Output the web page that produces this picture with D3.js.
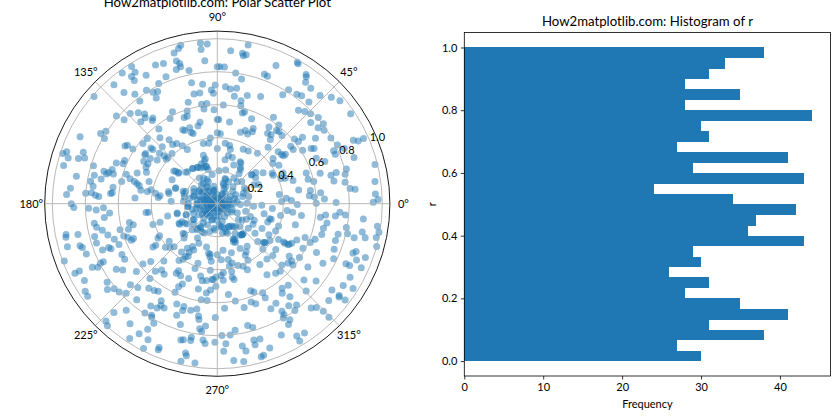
<!DOCTYPE html>
<html><head><meta charset="utf-8">
<script src="https://d3js.org/d3.v7.min.js"></script>
<style>html,body{margin:0;padding:0;background:#fff}svg{display:block}text{font-family:Lato,"Noto Sans",sans-serif;fill:#000}</style>
</head><body><svg id="c" width="840" height="420"></svg>
<script>
const leftTitle="How2matplotlib.com: Polar Scatter Plot";
const rightTitle="How2matplotlib.com: Histogram of r";
const angleTicks=[0,45,90,135,180,225,270,315];
const radiusTicks=[0.2,0.4,0.6,0.8,1.0];
const freqTicks=[0,10,20,30,40];
const rTicks=[0,0.2,0.4,0.6,0.8,1.0];
const binCounts=[30,27,38,31,41,35,28,31,26,30,29,43,36,37,42,34,24,43,29,41,27,31,30,44,28,35,28,31,33,38];
// [theta in degrees, r]
const pointsUpperLeft=[[96,.98],[93.6,.97],[96,.94],[103,.985],[104,.97],[106,.95],[95,.87],[106,.9],[105,.88],[105,.86],[107,.85],[102,.825],[90,.83],[111,.91],[114,.92],[122,.98],[126,.98],[122,.94],[124,.93],[124,.9],[119,.89],[112,.83],[131,.955],[116,.81],[102,.75],[97,.73],[91,.72],[130,.88],[122,.81],[118,.77],[120,.78],[99,.68],[102,.68],[93,.69],[92,.67],[127,.83],[120,.74],[139,.99],[127,.78],[106,.64],[99,.61],[96,.61],[98,.58],[92,.57],[108,.59],[116,.62],[139,.81],[134,.76],[131,.73],[129,.7],[130,.68],[127,.65],[128,.64],[133,.68],[138,.76],[119,.59],[111,.56],[109,.56],[90,.51],[102,.505],[104,.485],[110,.49],[115,.495],[114,.485],[110,.46],[109,.45],[128,.575],[131,.53],[154,.925],[149,.825],[147,.805],[150,.79],[137,.58],[141,.58],[96,.4],[103,.375],[98,.37],[90,.43],[147,.65],[148,.66],[147,.61],[140,.525],[134,.48],[127,.485],[127,.45],[124,.44],[121,.41],[119,.375],[140,.51],[145,.53],[139,.465],[132,.41],[161,.965],[162,.985],[159,.87],[163,.945],[161,.85],[162,.885],[166,.96],[155,.62],[146,.53],[146,.49],[150,.515],[144,.45],[138,.435],[139,.41],[137,.41],[158,.66],[157,.62],[150,.485],[153,.485],[106,.305],[105,.28],[112,.26],[106,.235],[105,.215],[110,.235],[118,.25],[125,.26],[163,.785],[169,.87],[167,.765],[164,.715],[165,.695],[162,.67],[164,.655],[164,.685],[168,.72],[170,.78],[162,.58],[159,.52],[156,.47],[142,.32],[142,.3],[135,.27],[152,.31],[164,.55],[165,.52],[166,.5],[167,.485],[162,.435],[167,.595],[171,.64],[172,.76],[174,.895],[175.5,.8],[175,.765],[176,.74],[176.5,.72],[176.5,.915],[174.5,.65],[174,.64],[170,.47],[170,.43],[168,.41],[170.5,.38],[172,.35],[166,.305],[168,.3],[160,.27],[160,.22],[163,.21],[147,.17],[160,.15],[143,.115],[180,.885],[176,.5],[174,.36],[177,.28],[176,.205],[125,.15],[112,.145],[106,.085],[127,.09],[129,.055],[158,.115],[163,.08],[169,.17]];
const pointsLowerLeft=[[181.5,.87],[182,.78],[183,.735],[182,.69],[185,.655],[187,.69],[189,.755],[191,.745],[193,.715],[196,.69],[191.5,.935],[192.5,.94],[192.5,.865],[195,.77],[198,.77],[196,.945],[197,.87],[198,.86],[201,.85],[202,.75],[202,.71],[203,.7],[199,.66],[202.5,.645],[195,.61],[192,.545],[194,.525],[196,.56],[199,.6],[200.5,.58],[202.5,.55],[203,.565],[208,.655],[211,.655],[200.5,.99],[207,.775],[207,.795],[207,.85],[208,.82],[206,.93],[206,.96],[210,.93],[213,.73],[215,.7],[220,.64],[219,.58],[221,.535],[227,.475],[227.5,.555],[230,.525],[233,.535],[228,.61],[215.5,.82],[218,.845],[219.5,.81],[222,.8],[224.5,.775],[223,.72],[226.5,.7],[231,.66],[234,.65],[236,.64],[213.5,.96],[215.5,.965],[230,.76],[240,.68],[237,.74],[240,.73],[241,.705],[243,.71],[226.5,.91],[229.5,.85],[236.5,.795],[239.5,.785],[240,.795],[242,.82],[234,.9],[226.5,.98],[228,.995],[241,.87],[239,.92],[237,.975],[243,.925],[243,.985],[248,.94],[248,.955],[250,.72],[248,.655],[252,.655],[252,.68],[256,.665],[259,.65],[260.5,.69],[261,.71],[253,.765],[269,.69],[264.5,.745],[262,.765],[263,.78],[256,.85],[255,.855],[259,.825],[259,.845],[264,.83],[265,.85],[269,.84],[258,.925],[258.5,.94],[257,.98],[262,.975],[198,.41],[198,.365],[194,.31],[194,.25],[187,.435],[187,.42],[209,.4],[210,.415],[214,.45],[214,.47],[218,.37],[220,.41],[223,.39],[225,.37],[221,.275],[211,.23],[208.5,.26],[207,.24],[213,.175],[221,.19],[232,.19],[242,.195],[223,.27],[236,.325],[233.5,.365],[240,.34],[239,.375],[240,.3],[245,.265],[256,.27],[236,.415],[238.5,.395],[252,.38],[251,.415],[260,.305],[262,.31],[264,.35],[264,.405],[257,.45],[259,.475],[262,.47],[266,.46],[269,.445],[269,.5],[240,.47],[239.5,.49],[243,.49],[249,.485],[246.5,.53],[245,.555],[244.5,.595],[257.5,.53],[265.5,.525],[263,.545],[260.5,.59],[264,.59]];
const pointsUpperRight=[[79,.98],[85,.93],[80.5,.925],[79,.92],[80,.91],[89,.83],[87,.83],[67,.91],[60.5,.985],[60,.98],[82,.8],[70,.835],[68.5,.83],[55.5,.95],[55,.94],[54,.91],[79,.77],[86,.71],[83.5,.7],[80.5,.71],[51,.9],[58,.815],[59,.77],[54,.82],[52,.83],[46.5,.905],[43,.945],[40,.97],[81,.66],[74.5,.68],[68,.7],[77,.64],[48,.83],[86.5,.6],[76.5,.61],[73.5,.58],[74.5,.57],[49,.75],[46.5,.77],[44,.785],[34,.975],[68,.555],[57,.625],[40.5,.805],[37,.805],[41,.75],[37,.765],[34.5,.785],[89,.51],[81.5,.5],[52,.605],[56,.56],[64.5,.505],[64,.485],[69,.475],[72,.455],[66.5,.46],[87.5,.425],[54.5,.525],[52,.53],[51,.57],[49.5,.575],[46.5,.57],[50.5,.505],[40,.61],[38,.655],[37.5,.62],[33.7,.715],[30,.795],[25,.91],[24,.935],[24,.97],[26,.81],[23.5,.84],[24.5,.775],[22.7,.775],[18.7,.875],[21.4,.7],[24.7,.66],[30.5,.66],[29.7,.675],[38,.565],[35.5,.565],[32,.61],[48,.46],[64.5,.365],[59.5,.37],[51.5,.39],[39,.435],[40.5,.485],[37.5,.49],[36,.51],[36,.495],[36,.415],[32,.44],[78,.36],[76.5,.34],[82.5,.37],[90,.335],[77,.3],[72,.295],[61.5,.29],[57.5,.26],[80,.27],[54,.225],[40,.27],[39,.3],[34,.335],[27.5,.25],[25,.275],[29,.38],[27,.38],[25,.44],[21.5,.415],[20.5,.44],[17,.48],[19,.57],[15,.57],[13,.6],[16.5,.65],[14,.71],[14.7,.745],[15,.81],[13,.795],[11,.72],[9.5,.785],[14,.985],[8,.965],[6.5,.81],[6,.84],[9.5,.5],[8,.57],[5,.56],[6,.63],[2.5,.65],[4,.59],[4.5,.42],[2.5,.45],[8.5,.38],[3.5,.96],[1.5,.975],[.5,.945],[.6,.72],[.2,.6]];
const pointsLowerRight=[[354,.89],[352,.98],[350,.995],[348,.985],[345,1],[349,.895],[346,.855],[347,.92],[340,.875],[341,.89],[338,.91],[340,.955],[335,.86],[335,.885],[336,.955],[331,.92],[328,.97],[327,.91],[323,.87],[323,.925],[322.5,.93],[323,.97],[319,.895],[314.5,.965],[314.6,.915],[313.7,.87],[312,.85],[304,.945],[301,.935],[301,.97],[296,.885],[290,.93],[286,.965],[287,.96],[287.5,.86],[285,.855],[285,.885],[280,.875],[281,.91],[279.5,.97],[276,.955],[272.5,.895],[273.5,.85],[272,.8],[275.6,.8],[278,.775],[284,.76],[286,.78],[274,.635],[280.5,.6],[284.5,.65],[289,.63],[291,.65],[291,.565],[292.5,.58],[297,.605],[297,.64],[277,.555],[297,.715],[300.5,.7],[307.5,.645],[311,.655],[306,.67],[308,.715],[305,.755],[308,.78],[306,.8],[301,.76],[301,.785],[300,.8],[302,.83],[300.5,.85],[315.5,.755],[318.6,.7],[322,.76],[325,.67],[330.6,.735],[333.8,.67],[338.7,.76],[334.7,.78],[342.7,.75],[345.8,.755],[347,.81],[349.6,.795],[350,.675],[354,.66],[352.5,.63],[354,.72],[356,.745],[355,.78],[347,.66],[343.6,.66],[340,.63],[337.4,.61],[339,.57],[335.4,.53],[330.5,.5],[329.7,.475],[329.7,.43],[323.8,.54],[332.5,.585],[326.8,.595],[321,.59],[322.4,.57],[320,.56],[316.5,.54],[313,.56],[310,.55],[305,.525],[322,.45],[312,.45],[305,.45],[317,.46],[315,.39],[329,.365],[320.5,.37],[317,.335],[325,.39],[335,.39],[340,.395],[345,.49],[352,.515],[353.5,.46],[354.5,.425],[349.5,.39],[344,.33],[348,.29],[355,.335],[2,.39],[359.5,.485],[331,.31],[322,.29],[330,.25],[321.5,.24],[309,.24],[305,.315],[297,.305],[301,.34],[298.5,.355],[298.5,.39],[277,.285],[286,.31],[270,.31],[274,.34],[281,.345],[288.5,.395],[292.5,.41],[294.5,.44],[284,.37],[281,.385],[282,.42],[275,.42],[273,.435],[281.5,.455],[282.5,.47],[274.5,.465],[267,.46],[301,.21],[294,.235],[295,.26],[287,.18],[302,.16],[282,.145],[332,.2],[315,.195],[336,.245],[323,.16],[358,.27],[340,.325],[344,.34],[305,.17],[296,.155],[287,.155],[277,.14],[265,.16],[306,.235],[308,.24],[311,.24],[320,.365],[321,.375],[330,.495],[332,.51],[330,.465],[293,.25],[296,.245]];
const pointsCentre=[[107,.27],[107,.235],[115,.24],[119,.25],[125,.26],[133,.265],[141,.3],[143,.33],[125,.19],[118,.175],[113,.16],[100,.18],[87,.2],[76,.21],[67,.255],[60,.285],[56,.25],[71,.155],[71,.12],[64,.115],[57,.185],[48,.18],[30,.19],[40,.275],[34,.28],[39,.12],[26,.125],[16,.16],[13,.195],[52,.08],[61,.06],[19,.075],[7,.12],[1,.18],[356,.22],[159,.27],[159,.205],[168,.205],[163,.15],[146,.135],[137,.11],[124,.09],[105,.077],[166,.105],[150,.07],[141,.04],[183,.12],[190,.09],[186,.06],[208,.035],[193,.155],[185,.18],[193,.25],[199,.2],[207,.26],[214,.22],[214,.17],[211,.13],[213,.085],[234,.07],[227,.12],[234,.17],[245,.14],[253,.1],[226,.22],[226,.29],[240,.24],[246,.195],[262,.15],[277,.077],[270,.046],[310,.047],[317,.083],[338,.098],[335,.134],[286,.11],[297,.155],[309,.177],[309,.24],[280,.18],[289,.19],[295,.24],[339,.215],[327,.18],[345,.178],[8,.03],[345,.063],[125,.017],[67,.026],[232,.033],[308,.033],[216,.062],[90,.055],[101,.107],[120,.12],[356,.08],[358,.14],[20,.02],[80,.035],[110,.045],[170,.04],[200,.06],[215,.045],[250,.03],[285,.05],[330,.03],[30,.05],[150,.025],[240,.09],[265,.075],[300,.09],[325,.06],[355,.04],[45,.04],[140,.08],[175,.08],[195,.11],[225,.09],[250,.06],[280,.03],[74,.13],[66,.1],[63,.07],[73,.16],[29,.09],[17,.11],[22,.17],[25,.195],[63,.15],[47,.14],[42,.2],[222,.087],[251,.105],[234,.145],[232,.2],[235,.18],[255,.175],[204,.09],[193,.13],[186,.18],[202,.155],[200,.2],[241,.365],[243,.315],[262,.325],[170,.125],[153,.16],[142,.135],[147,.08],[130,.15],[122,.12],[165,.09],[100,.085],[180,.035],[180,.065],[180,.125],[180,.175],[350,.06],[0,.1],[5,.07],[268,.1],[275,.13],[190,.04],[160,.05],[215,.11],[330,.1]];
const polarPoints=[...pointsUpperLeft,...pointsLowerLeft,...pointsUpperRight,...pointsLowerRight,...pointsCentre];

const svg=d3.select("#c");
const blue="#1f77b4", fs=11, tfs=13.2, family='Lato,"Noto Sans",sans-serif';
// polar panel
const cx=217.3, cy=203.7;
const rad=d3.scaleLinear().domain([0,1]).range([0,165]);
const rmax=rad.invert(172.6);
const ang=d3.scaleLinear().domain([0,360]).range([0,-2*Math.PI]);
const px=(t,r)=>rad(r)*Math.cos(ang(t)), py=(t,r)=>rad(r)*Math.sin(ang(t));
const P=svg.append("g").attr("transform",`translate(${cx},${cy})`);
P.selectAll("circle.pt").data(polarPoints).join("circle").attr("class","pt").attr("cx",d=>px(d[0],d[1])).attr("cy",d=>py(d[0],d[1])).attr("r",3.5).attr("fill",blue).attr("fill-opacity",.5);
P.selectAll("circle.ring").data(radiusTicks).join("circle").attr("class","ring").attr("r",d=>rad(d)).attr("fill","none").attr("stroke","#b0b0b0").attr("stroke-width",.9);
P.selectAll("line.spoke").data(angleTicks).join("line").attr("class","spoke").attr("x1",0).attr("y1",0).attr("x2",d=>px(d,rmax)).attr("y2",d=>py(d,rmax)).attr("stroke","#b0b0b0").attr("stroke-width",.9);
P.append("circle").attr("r",rad(rmax)).attr("fill","none").attr("stroke","#000").attr("stroke-width",.9);
P.selectAll("text.a").data(angleTicks).join("text").attr("class","a").attr("x",d=>1.078*rad(rmax)*Math.cos(ang(d))).attr("y",d=>1.078*rad(rmax)*Math.sin(ang(d))+3.8).attr("text-anchor","middle").attr("font-size",fs).text(d=>d+"°");
P.selectAll("text.r").data(radiusTicks).join("text").attr("class","r").attr("x",d=>px(22.5,d+.05)).attr("y",d=>py(22.5,d+.05)+3.8).attr("text-anchor","middle").attr("font-size",fs).text(d=>d.toFixed(1));
svg.append("text").attr("x",cx).attr("y",7).attr("text-anchor","middle").attr("font-size",tfs).text(leftTitle);
// histogram panel
const L=464.3,R=830.6,T=32.5,B=376;
const xS=d3.scaleLinear().domain([0,46.42]).range([L,R]);
const yS=d3.scaleLinear().domain([-.0475,1.0478]).range([B,T]);
const binW=1/binCounts.length;
svg.append("g").selectAll("rect").data(binCounts).join("rect").attr("x",xS(0)).attr("y",(d,i)=>yS((i+1)*binW)).attr("width",d=>xS(d)-xS(0)).attr("height",yS(0)-yS(binW)+.3).attr("fill",blue).attr("shape-rendering","crispEdges");
const xA=svg.append("g").attr("transform",`translate(0,${B})`).call(d3.axisBottom(xS).tickValues(freqTicks).tickSize(3.5).tickSizeOuter(0).tickPadding(3.5));
const yA=svg.append("g").attr("transform",`translate(${L},0)`).call(d3.axisLeft(yS).tickValues(rTicks).tickSize(3.5).tickSizeOuter(0).tickPadding(3.5).tickFormat(d3.format(".1f")));
[xA,yA].forEach(a=>{a.select(".domain").remove();a.selectAll("text").attr("font-size",fs).attr("font-family",family).attr("fill","#000");a.selectAll("line").attr("stroke","#000").attr("stroke-width",.8);});
svg.append("rect").attr("x",L).attr("y",T).attr("width",R-L).attr("height",B-T).attr("fill","none").attr("stroke","#000").attr("stroke-width",.8);
svg.append("text").attr("x",(L+R)/2).attr("y",26).attr("text-anchor","middle").attr("font-size",tfs).text(rightTitle);
svg.append("text").attr("x",(L+R)/2).attr("y",408).attr("text-anchor","middle").attr("font-size",fs).text("Frequency");
svg.append("text").attr("transform",`translate(436,${(T+B)/2}) rotate(-90)`).attr("text-anchor","middle").attr("font-size",fs).text("r");
</script></body></html>
